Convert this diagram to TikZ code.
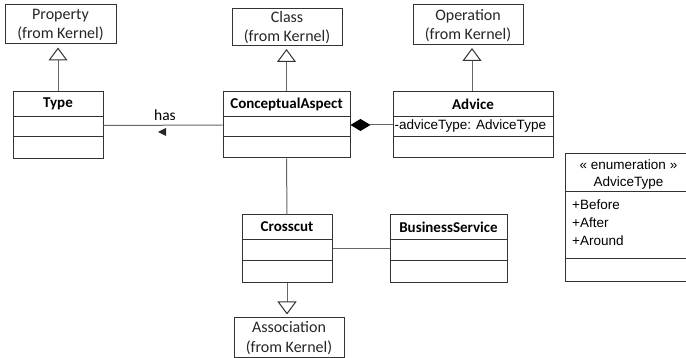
\documentclass[tikz,border=0pt]{standalone}
\usepackage{fontspec}
\setmainfont{Carlito}
\newfontfamily\arialf{Liberation Sans}
\usetikzlibrary{arrows.meta}
\tikzset{
  box/.style={draw=black!80, line width=1pt, inner sep=0pt, fill=white},
  kern/.style={box, align=center, font=\fontsize{16}{19.5}\selectfont, text=black!85},
  ttl/.style={font=\bfseries\fontsize{15}{18}\selectfont, inner sep=0pt},
  sep/.style={draw=black!80, line width=1pt},
  conn/.style={draw=black!60, line width=1pt},
  gen/.style={conn, -{Triangle[open,length=13pt,width=19pt,fill=white,color=black!80]}, shorten >=3pt},
  attr/.style={font=\arialf\fontsize{13.5}{18}\selectfont, inner sep=0pt, anchor=west},
}
\begin{document}
\begin{tikzpicture}[x=1pt,y=-1pt]
\fill[white] (0,0) rectangle (686,358);
\useasboundingbox (0,0) rectangle (686,358);

% kernel boxes
\node[kern, minimum width=111pt, minimum height=39pt, text depth=1.5pt] (property) at (60.5,24.5) {Property\\(from Kernel)};
\node[kern, minimum width=110pt, minimum height=37pt, text depth=1.5pt] (class) at (287,27) {Class\\(from Kernel)};
\node[kern, minimum width=110pt, minimum height=40pt, text depth=1.5pt] (operation) at (468,25) {Operation\\(from Kernel)};
\node[kern, minimum width=110pt, minimum height=39pt, text depth=1.5pt] (assoc) at (289,337.5) {Association\\(from Kernel)};

% Type
\node[box, minimum width=90pt, minimum height=67pt] (type) at (58,125.5) {};
\draw[sep] ([yshift=-25pt]type.north west) -- ([yshift=-25pt]type.north east);
\draw[sep] ([yshift=-45pt]type.north west) -- ([yshift=-45pt]type.north east);
\node[ttl] (typet) at ([yshift=-12.5pt]type.north) {Type};

% ConceptualAspect
\node[box, minimum width=127pt, minimum height=66pt] (ca) at (286.5,125) {};
\draw[sep] ([yshift=-25pt]ca.north west) -- ([yshift=-25pt]ca.north east);
\draw[sep] ([yshift=-45pt]ca.north west) -- ([yshift=-45pt]ca.north east);
\node[ttl] (cat) at ([yshift=-12.5pt]ca.north) {ConceptualAspect};

% Advice
\node[box, minimum width=160pt, minimum height=66pt] (advice) at (473,125) {};
\draw[sep] ([yshift=-25pt]advice.north west) -- ([yshift=-25pt]advice.north east);
\draw[sep] ([yshift=-45pt]advice.north west) -- ([yshift=-45pt]advice.north east);
\node[ttl] (advicet) at ([yshift=-12.5pt]advice.north) {Advice};
\node[attr] (adviceattr) at ([xshift=2pt,yshift=-35pt]advice.north west) {-adviceType: AdviceType};

% Crosscut
\node[box, minimum width=90pt, minimum height=68pt] (cross) at (287,249) {};
\draw[sep] ([yshift=-25pt]cross.north west) -- ([yshift=-25pt]cross.north east);
\draw[sep] ([yshift=-46pt]cross.north west) -- ([yshift=-46pt]cross.north east);
\node[ttl] (crosst) at ([yshift=-12.5pt]cross.north) {Crosscut};

% BusinessService
\node[box, minimum width=117pt, minimum height=68pt] (bs) at (448.5,249) {};
\draw[sep] ([yshift=-25pt]bs.north west) -- ([yshift=-25pt]bs.north east);
\draw[sep] ([yshift=-46pt]bs.north west) -- ([yshift=-46pt]bs.north east);
\node[ttl] (bst) at ([yshift=-12.5pt]bs.north) {BusinessService};

% AdviceType enumeration
\node[box, minimum width=127pt, minimum height=128pt] (at) at (628.5,218) {};
\draw[sep] ([yshift=-38pt]at.north west) -- ([yshift=-38pt]at.north east);
\draw[sep] ([yshift=-105pt]at.north west) -- ([yshift=-105pt]at.north east);
\node[font=\arialf\fontsize{13.5}{18}\selectfont, inner sep=0pt] (atst) at (628.5,165) {« enumeration »};
\node[font=\arialf\fontsize{13.5}{18}\selectfont, inner sep=0pt] (atn) at (628.5,183) {AdviceType};
\node[attr] (lit1) at (572,205) {+Before};
\node[attr] (lit2) at (572,223) {+After};
\node[attr] (lit3) at (572,241) {+Around};

% generalizations
\draw[gen] (type.north) -- (type.north |- property.south);
\draw[gen] (ca.north) -- (ca.north |- class.south);
\draw[gen] (advice.north -| 472,0) -- (472,45);
\draw[gen] (cross.south) -- (cross.south |- assoc.north);

% associations
\draw[conn] (type.east) -- (ca.west);
\node[font=\fontsize{15.5}{18}\selectfont, inner sep=0pt] (has) at (165,115) {has};
\fill[black!85] (158,132) -- (166,128) -- (166,136) -- cycle;
\draw[conn, {Diamond[length=20pt,width=12pt,fill=black,color=black]}-] (ca.east) -- (advice.west);
\draw[conn] (ca.south) -- (cross.north);
\draw[conn] (cross.east) -- (bs.west);
\end{tikzpicture}
\end{document}
